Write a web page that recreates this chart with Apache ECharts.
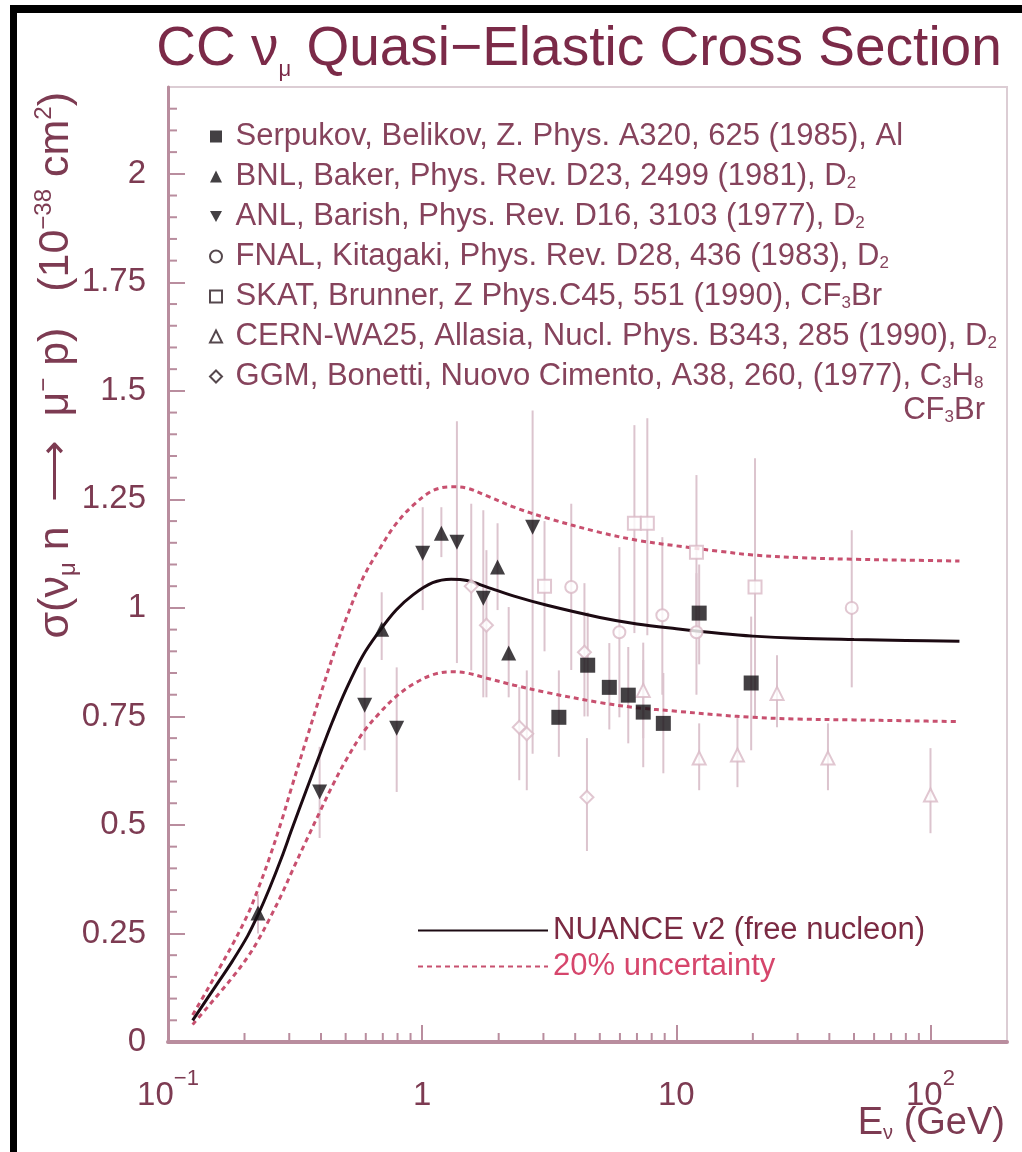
<!DOCTYPE html>
<html>
<head>
<meta charset="utf-8">
<script src="https://cdn.jsdelivr.net/npm/echarts@6/dist/echarts.min.js"></script>
<style>
  html, body { margin: 0; padding: 0; background: #fff; }
  #chart { width: 1022px; height: 1152px; }
</style>
</head>
<body>
<div id="chart"></div>
<script>
// NUANCE v2 free-nucleon prediction for CC nu_mu quasi-elastic scattering
const modelEnergy = [0.125, 0.142, 0.16, 0.18, 0.206, 0.226, 0.25, 0.28, 0.307, 0.35, 0.4, 0.445, 0.5, 0.584, 0.68, 0.79, 0.92, 1.1, 1.3, 1.5, 1.8, 2.3, 3.1, 5, 7, 10, 15, 20, 30, 50, 80, 130];
const modelSigma  = [0.05, 0.098, 0.143, 0.188, 0.245, 0.293, 0.352, 0.425, 0.49, 0.58, 0.67, 0.74, 0.81, 0.89, 0.947, 0.995, 1.03, 1.058, 1.066, 1.063, 1.048, 1.027, 1.006, 0.978, 0.963, 0.952, 0.941, 0.935, 0.930, 0.927, 0.925, 0.923];
// 20% uncertainty envelope
const bandUpper   = [0.062, 0.118, 0.172, 0.226, 0.294, 0.352, 0.422, 0.51, 0.588, 0.696, 0.804, 0.888, 0.972, 1.068, 1.136, 1.194, 1.236, 1.27, 1.279, 1.276, 1.258, 1.232, 1.207, 1.174, 1.156, 1.143, 1.13, 1.122, 1.116, 1.112, 1.11, 1.108];
const bandLower   = [0.04, 0.078, 0.114, 0.15, 0.196, 0.234, 0.282, 0.34, 0.392, 0.464, 0.536, 0.592, 0.648, 0.712, 0.758, 0.796, 0.824, 0.846, 0.853, 0.85, 0.838, 0.822, 0.805, 0.782, 0.77, 0.762, 0.753, 0.748, 0.744, 0.742, 0.74, 0.738];

// Measurements: [E_nu (GeV), sigma, error-bar low, error-bar high]  (10^-38 cm^2)
const serpukov = [[3.45, 0.748, 0.657, 0.856], [4.48, 0.868, 0.75, 0.99], [5.45, 0.817, 0.72, 0.919], [6.47, 0.799, 0.688, 0.91], [7.41, 0.76, 0.633, 0.88], [8.89, 0.734, 0.619, 0.85], [12.3, 0.988, 0.87, 1.10], [19.7, 0.827, 0.672, 0.98]];
const bnl      = [[0.226, 0.297, 0.25, 0.34], [0.693, 0.951, 0.88, 1.036], [1.19, 1.172, 1.117, 1.232], [1.98, 1.094, 0.995, 1.195], [2.19, 0.896, 0.794, 1.002]];
const anl      = [[0.395, 0.576, 0.47, 0.68], [0.594, 0.776, 0.672, 0.863], [0.794, 0.723, 0.576, 0.863], [1.005, 1.126, 0.995, 1.232], [1.37, 1.151, 0.873, 1.43], [1.74, 1.022, 0.794, 1.225], [2.72, 1.186, 0.664, 1.455]];
const fnal     = [[3.86, 1.048, 0.857, 1.24], [5.97, 0.944, 0.748, 1.14], [8.81, 0.983, 0.80, 1.163], [12.0, 0.944, 0.80, 1.08], [49, 1.0, 0.817, 1.179]];
const skat     = [[3.03, 1.05, 0.90, 1.20], [6.84, 1.195, 0.942, 1.421], [7.69, 1.195, 0.937, 1.437], [12.0, 1.128, 0.94, 1.306], [20.4, 1.048, 0.75, 1.345]];
const cernWA25 = [[7.41, 0.81, 0.70, 0.92], [12.3, 0.654, 0.58, 0.734], [17.4, 0.661, 0.587, 0.748], [24.9, 0.803, 0.725, 0.891], [39.5, 0.654, 0.58, 0.734], [100, 0.569, 0.481, 0.677]];
const ggm      = [[1.56, 1.05, 0.856, 1.24], [1.79, 0.96, 0.794, 1.133], [2.41, 0.725, 0.603, 0.818], [2.58, 0.71, 0.58, 0.856], [4.35, 0.898, 0.75, 1.057], [4.45, 0.564, 0.44, 0.70]];

// Axis ticks
const xMajorLabels = { '-1': '{b|10}{s|−1}', '0': '{n|1}', '1': '{n|10}', '2': '{b|10}{s|2}' };
const yMajorStep = 0.25;

const INK = '#7d3b52';
const AXIS = '#b98d9e';
const OPEN = '#d9b9c6';
const BAR = '#dcc4ce';
const LEG = '#86435c';
const FONT = 'Liberation Sans, Arial, sans-serif';
const DOWN_TRIANGLE = 'path://M0,0L20,0L10,18Z';

const legendText = {
  serpukov: ' Serpukov, Belikov, Z. Phys. A320, 625 (1985), Al',
  bnl: ' BNL, Baker, Phys. Rev. D23, 2499 (1981), D{sub|2}',
  anl: ' ANL, Barish, Phys. Rev. D16, 3103 (1977), D{sub|2}',
  fnal: ' FNAL, Kitagaki, Phys. Rev. D28, 436 (1983), D{sub|2}',
  skat: ' SKAT, Brunner, Z Phys.C45, 551 (1990), CF{sub|3}Br',
  cern: ' CERN-WA25, Allasia, Nucl. Phys. B343, 285 (1990), D{sub|2}',
  ggm: ' GGM, Bonetti, Nuovo Cimento, A38, 260, (1977), C{sub|3}H{sub|8}'
};

const xMinorTicks = [];
[0.1, 1, 10, 100].forEach(d => { for (let k = 2; k <= 9; k++) if (d * k < 200) xMinorTicks.push(d * k); });
const yMinorTicks = [];
for (let i = 1; i < 44; i++) if (i % 5 !== 0) yMinorTicks.push(i * 0.05);

function pairs(points) { return points.map(p => [p[0], p[1]]); }

function errorBars(name, points) {
  return {
    type: 'custom', name: name, silent: true, z: 1,
    data: points.map(p => [p[0], p[2], p[3]]),
    encode: { x: 0, y: [1, 2] },
    renderItem(params, api) {
      const lo = api.coord([api.value(0), api.value(1)]);
      const hi = api.coord([api.value(0), api.value(2)]);
      return { type: 'line', shape: { x1: lo[0], y1: lo[1], x2: hi[0], y2: hi[1] }, style: { stroke: BAR, lineWidth: 2 } };
    }
  };
}

function filled(name, points, symbol, size) {
  return { type: 'scatter', name, data: pairs(points), symbol, symbolSize: size, z: 4,
           itemStyle: { color: '#141014' } };
}
function open(name, points, symbol, size) {
  return { type: 'scatter', name, data: pairs(points), symbol, symbolSize: size, z: 4,
           itemStyle: { color: '#ffffff', borderColor: OPEN, borderWidth: 2 } };
}
function curve(name, values, color, dash) {
  return {
    type: 'line', name, data: modelEnergy.map((e, i) => [e, values[i]]),
    smooth: 0.35, symbol: 'none', z: 3,
    lineStyle: { color, width: 3, type: dash || 'solid' }, itemStyle: { color }
  };
}

const chart = echarts.init(document.getElementById('chart'), null, { renderer: 'canvas' });

const openLegendStyle = { color: '#ffffff', borderColor: '#2a1a20', borderWidth: 2 };

chart.setOption({
  animation: false,
  backgroundColor: '#ffffff',
  grid: { left: 168, right: 15, top: 87, bottom: 110, show: true, borderColor: '#dccdd4', borderWidth: 2 },
  xAxis: {
    type: 'log', logBase: 10, min: 0.1, max: 200,
    axisLine: { lineStyle: { color: AXIS, width: 4 } },
    axisTick: { inside: true, length: 17, lineStyle: { color: AXIS, width: 2 } },
    splitLine: { show: false },
    axisLabel: {
      margin: 26, showMaxLabel: false,
      formatter: v => { const e = Math.round(Math.log10(v)); return Math.abs(Math.log10(v) - e) < 1e-6 ? (xMajorLabels[String(e)] || '') : ''; },
      rich: {
        n: { fontSize: 33, fontFamily: FONT, color: INK, lineHeight: 44, verticalAlign: 'bottom' },
        b: { fontSize: 33, fontFamily: FONT, color: INK, lineHeight: 44, verticalAlign: 'bottom' },
        s: { fontSize: 22, fontFamily: FONT, color: INK, lineHeight: 22, verticalAlign: 'top' }
      }
    }
  },
  yAxis: {
    type: 'value', min: 0, max: 2.2, interval: yMajorStep,
    axisLine: { show: true, lineStyle: { color: AXIS, width: 3 } },
    axisTick: { show: true, inside: true, length: 17, lineStyle: { color: AXIS, width: 2 } },
    splitLine: { show: false },
    axisLabel: { margin: 22, showMaxLabel: false, fontSize: 33, fontFamily: FONT, color: INK }
  },
  legend: [{
    orient: 'vertical', left: 204, top: 116, itemWidth: 12, itemHeight: 12, itemGap: 9,
    selectedMode: false,
    data: [
      { name: 'serpukov' }, { name: 'bnl' }, { name: 'anl', icon: DOWN_TRIANGLE },
      { name: 'fnal', itemStyle: openLegendStyle },
      { name: 'skat', itemStyle: openLegendStyle },
      { name: 'cern', itemStyle: openLegendStyle },
      { name: 'ggm', itemStyle: openLegendStyle }
    ],
    formatter: n => legendText[n],
    textStyle: {
      fontSize: 31, fontFamily: FONT, color: LEG, lineHeight: 30,
      rich: { sub: { fontSize: 17, fontFamily: FONT, color: LEG, lineHeight: 14, verticalAlign: 'bottom' } }
    }
  }, {
    orient: 'vertical', left: 412, top: 910, itemWidth: 130, itemHeight: 12, itemGap: 5,
    selectedMode: false,
    data: [
      { name: 'NUANCE v2 (free nucleon)', textStyle: { color: '#7a2a42' }, itemStyle: { opacity: 0 } },
      { name: '20% uncertainty', textStyle: { color: '#d6466c' }, itemStyle: { opacity: 0 } }
    ],
    textStyle: { fontSize: 31, fontFamily: FONT, lineHeight: 30 }
  }],
  graphic: [
    { type: 'rect', shape: { x: 10, y: 5, width: 1012, height: 8 }, style: { fill: '#000' }, silent: true },
    { type: 'rect', shape: { x: 10, y: 5, width: 7, height: 1147 }, style: { fill: '#000' }, silent: true },
    { type: 'text', x: 579, y: 50, silent: true,
      style: { text: '{m|CC ν}{u|μ}{m| Quasi−Elastic Cross Section}', align: 'center', verticalAlign: 'middle',
        rich: { m: { fontSize: 55, fontFamily: FONT, fill: '#7b2a48', lineHeight: 62, verticalAlign: 'middle' },
                u: { fontSize: 22, fontFamily: FONT, fill: '#7b2a48', lineHeight: 20, verticalAlign: 'bottom' } } } },
    { type: 'text', x: 985, y: 410, silent: true,
      style: { text: 'CF{sub|3}Br', align: 'right', verticalAlign: 'middle', fontSize: 31, fontFamily: FONT, fill: LEG,
        rich: { sub: { fontSize: 17, fontFamily: FONT, fill: LEG, lineHeight: 14, verticalAlign: 'bottom' } } } },
    { type: 'text', x: 1005, y: 1124, silent: true,
      style: { text: 'E{u|ν} (GeV)', align: 'right', verticalAlign: 'middle', fontSize: 38, fontFamily: FONT, fill: INK,
        rich: { u: { fontSize: 20, fontFamily: FONT, fill: INK, lineHeight: 18, verticalAlign: 'bottom' } } } },
    { type: 'text', x: 56, y: 92, rotation: Math.PI / 2, silent: true,
      style: { text: 'σ(ν{u|μ} n  ⟶  μ{p|−} p)   (10{p|−38} cm{p|2})', align: 'right', verticalAlign: 'middle',
        fontSize: 43, fontFamily: FONT, fill: INK, lineHeight: 48,
        rich: { u: { fontSize: 24, fontFamily: FONT, fill: INK, lineHeight: 20, verticalAlign: 'bottom' },
                p: { fontSize: 24, fontFamily: FONT, fill: INK, lineHeight: 22, verticalAlign: 'top' } } } }
  ],
  series: [
    // minor ticks on both axes, placed through the axis scales
    {
      type: 'custom', name: 'ticks', silent: true, z: 5,
      data: xMinorTicks.map(v => [v, 0, 0]).concat(yMinorTicks.map(v => [0.1, v, 1])),
      encode: { x: 0, y: 1 },
      renderItem(params, api) {
        const p = api.coord([api.value(0), api.value(1)]);
        const horiz = api.value(2) === 1;
        return { type: 'line', shape: { x1: p[0], y1: p[1], x2: horiz ? p[0] + 9 : p[0], y2: horiz ? p[1] : p[1] - 9 },
                 style: { stroke: AXIS, lineWidth: 2 } };
      }
    },
    errorBars('serpukov-err', serpukov), errorBars('bnl-err', bnl), errorBars('anl-err', anl),
    errorBars('fnal-err', fnal), errorBars('skat-err', skat), errorBars('cern-err', cernWA25), errorBars('ggm-err', ggm),
    curve('20% uncertainty', bandUpper, '#c8506f', [5, 4]),
    curve('20% uncertainty', bandLower, '#c8506f', [5, 4]),
    curve('NUANCE v2 (free nucleon)', modelSigma, '#1c0a12'),
    open('fnal', fnal, 'circle', 12),
    open('skat', skat, 'rect', 13),
    open('cern', cernWA25, 'triangle', 13),
    open('ggm', ggm, 'diamond', 13),
    filled('serpukov', serpukov, 'rect', 15),
    filled('bnl', bnl, 'triangle', 15),
    filled('anl', anl, DOWN_TRIANGLE, 15)
  ]
});
</script>
</body>
</html>
